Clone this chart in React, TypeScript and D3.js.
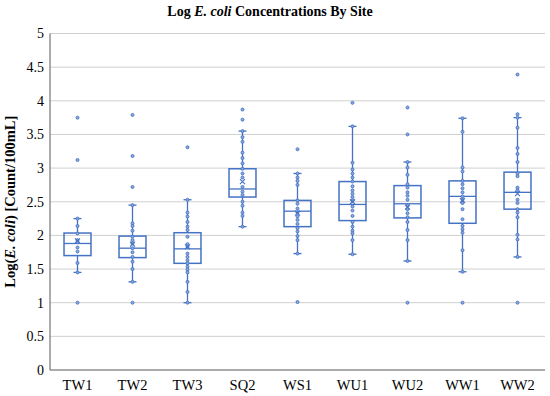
import * as d3 from "d3";

const sites = ["TW1", "TW2", "TW3", "SQ2", "WS1", "WU1", "WU2", "WW1", "WW2"];

// box summary
const q1 = [1.7, 1.67, 1.585, 2.57, 2.13, 2.22, 2.26, 2.18, 2.39];
const median = [1.88, 1.81, 1.8, 2.69, 2.36, 2.46, 2.47, 2.58, 2.64];
const q3 = [2.035, 1.99, 2.04, 2.99, 2.52, 2.8, 2.74, 2.81, 2.94];
const whiskLow = [1.45, 1.31, 1.0, 2.13, 1.73, 1.72, 1.62, 1.46, 1.68];
const whiskHigh = [2.25, 2.45, 2.53, 3.55, 2.92, 3.62, 3.09, 3.74, 3.75];
const means = [1.92, 1.87, 1.83, 2.8, 2.33, 2.5, 2.42, 2.52, 2.62];

const points = [
  [3.75, 3.12, 2.25, 2.14, 2.03, 1.93, 1.9, 1.82, 1.76, 1.59, 1.45, 1.0],
  [3.79, 3.18, 2.72, 2.45, 2.18, 2.14, 2.07, 1.98, 1.93, 1.88, 1.81, 1.75, 1.68, 1.61, 1.5, 1.31, 1.0],
  [3.31, 2.53, 2.34, 2.28, 2.2, 2.13, 2.08, 1.98, 1.87, 1.83, 1.73, 1.68, 1.63, 1.585, 1.535, 1.49, 1.45, 1.31, 1.16, 1.0],
  [3.87, 3.72, 3.55, 3.46, 3.39, 3.23, 3.15, 3.07, 2.99, 2.92, 2.86, 2.72, 2.65, 2.6, 2.5, 2.44, 2.34, 2.29, 2.13],
  [3.28, 2.92, 2.86, 2.81, 2.75, 2.52, 2.47, 2.4, 2.34, 2.28, 2.23, 2.17, 2.11, 2.06, 1.99, 1.93, 1.73, 1.01],
  [3.97, 3.62, 3.08, 2.98, 2.92, 2.86, 2.8, 2.73, 2.67, 2.62, 2.57, 2.52, 2.43, 2.37, 2.29, 2.2, 2.13, 2.07, 2.03, 1.93, 1.72],
  [3.9, 3.5, 3.09, 3.01, 2.9, 2.76, 2.71, 2.64, 2.59, 2.53, 2.44, 2.39, 2.33, 2.27, 2.2, 2.08, 1.93, 1.62, 1.0],
  [3.74, 3.54, 3.01, 2.95, 2.81, 2.76, 2.7, 2.64, 2.58, 2.53, 2.48, 2.39, 2.24, 2.14, 2.09, 2.04, 1.78, 1.46, 1.0],
  [4.39, 3.8, 3.75, 3.6, 3.3, 3.21, 3.09, 2.92, 2.88, 2.71, 2.67, 2.53, 2.48, 2.39, 2.34, 2.27, 2.01, 1.94, 1.68, 1.0],
];

const yTicks = [0, 0.5, 1, 1.5, 2, 2.5, 3, 3.5, 4, 4.5, 5];

const W = 550;
const H = 396;
const left = 50;
const right = 545;
const top = 33.5;
const bottom = 370;
const blue = "#4472C4";
const font = "'Liberation Serif', 'Times New Roman', serif";

export default function App() {
  const x = d3.scaleBand().domain(sites).range([left, right]);
  const y = d3.scaleLinear().domain([0, 5]).range([bottom, top]);
  const bw = x.bandwidth() * 0.49;
  const cap = 8;

  return (
    <svg width={W} height={H} style={{ position: "absolute", left: 0, top: 0 }} fontFamily={font}>
      <rect width={W} height={H} fill="#fff" />
      <text x={270} y={16} textAnchor="middle" fontSize={14} fontWeight="bold">
        Log <tspan fontStyle="italic">E. coli</tspan> Concentrations By Site
      </text>

      {yTicks.map((t) => (
        <g key={t}>
          <line x1={left} x2={right} y1={y(t)} y2={y(t)} stroke={t === 0 ? "#595959" : "#d0d0d0"} strokeWidth={1} />
          <text x={44} y={y(t)} dy="0.35em" textAnchor="end" fontSize={14}>
            {t}
          </text>
        </g>
      ))}
      <line x1={left} x2={left} y1={top} y2={bottom} stroke="#595959" strokeWidth={1} />

      <text
        transform={`translate(15,${(top + bottom) / 2}) rotate(-90)`}
        textAnchor="middle"
        fontSize={14.5}
        fontWeight="bold"
      >
        Log(<tspan fontStyle="italic">E. coli</tspan>) [Count/100mL]
      </text>

      {sites.map((s, i) => {
        const cx = (x(s) as number) + x.bandwidth() / 2;
        return (
          <g key={s} stroke={blue} fill="none">
            <line x1={cx} x2={cx} y1={y(whiskHigh[i])} y2={y(q3[i])} strokeWidth={1.3} />
            <line x1={cx} x2={cx} y1={y(q1[i])} y2={y(whiskLow[i])} strokeWidth={1.3} />
            <line x1={cx - cap / 2} x2={cx + cap / 2} y1={y(whiskHigh[i])} y2={y(whiskHigh[i])} strokeWidth={1.3} />
            <line x1={cx - cap / 2} x2={cx + cap / 2} y1={y(whiskLow[i])} y2={y(whiskLow[i])} strokeWidth={1.3} />
            <rect x={cx - bw / 2} y={y(q3[i])} width={bw} height={y(q1[i]) - y(q3[i])} strokeWidth={1.5} />
            <line x1={cx - bw / 2} x2={cx + bw / 2} y1={y(median[i])} y2={y(median[i])} strokeWidth={1.3} />
            {points[i].map((v, j) => (
              <circle key={j} cx={cx} cy={y(v)} r={1.5} fill="#8eaadc" strokeWidth={0.9} />
            ))}
            <path
              d={`M${cx - 2.5},${y(means[i]) - 2.5}L${cx + 2.5},${y(means[i]) + 2.5}M${cx - 2.5},${y(means[i]) + 2.5}L${cx + 2.5},${y(means[i]) - 2.5}`}
              strokeWidth={1.1}
            />
            <text x={cx} y={390} textAnchor="middle" fontSize={14.5} fill="#000" stroke="none">
              {s}
            </text>
          </g>
        );
      })}
    </svg>
  );
}
